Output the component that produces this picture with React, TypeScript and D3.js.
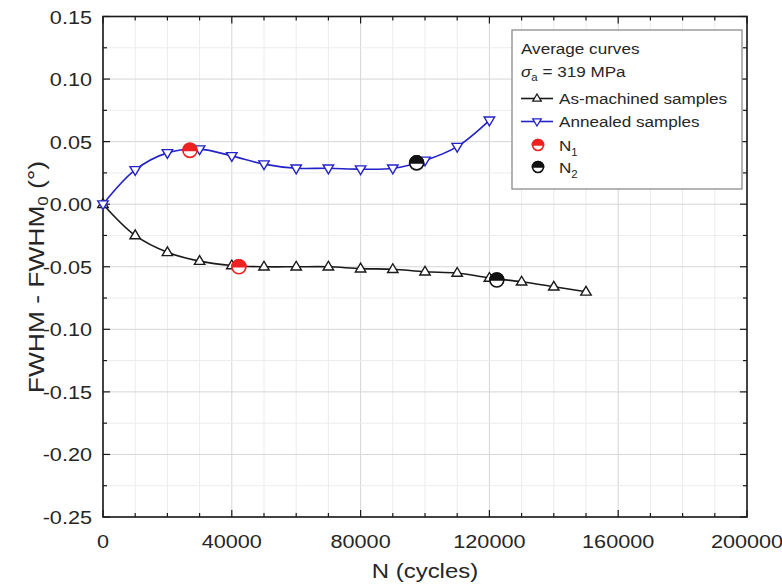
import React from "react";
import * as d3 from "d3";

const cyclesAM = [0, 10000, 20000, 30000, 40000, 50000, 60000, 70000, 80000, 90000, 100000, 110000, 120000, 130000, 140000, 150000];
const asMachined = [0, -0.025, -0.0385, -0.0455, -0.049, -0.05, -0.05, -0.05, -0.0515, -0.052, -0.054, -0.055, -0.059, -0.062, -0.066, -0.07];
const cyclesAN = [0, 10000, 20000, 30000, 40000, 50000, 60000, 70000, 80000, 90000, 100000, 110000, 120000];
const annealed = [0, 0.0274, 0.041, 0.044, 0.0386, 0.032, 0.0287, 0.0287, 0.028, 0.0287, 0.035, 0.046, 0.067];
const n1Cycles = [27000, 42200];
const n1Values = [0.043, -0.05];
const n2Cycles = [97400, 122300];
const n2Values = [0.033, -0.0606];
const xTickLabels = ["0", "40000", "80000", "120000", "160000", "200000"];
const yTickLabels = ["0.15", "0.10", "0.05", "0.00", "-0.05", "-0.10", "-0.15", "-0.20", "-0.25"];

const W = 782, H = 586;
const L = 103, R = 747, T = 16.5, B = 517;
const SX = 1.14;
const FONT = "'Liberation Sans', Arial, sans-serif";
const BLUE = "#2323c8";
const RED = "#ee2222";
const INK = "#1a1a1a";

const x = d3.scaleLinear().domain([0, 200000]).range([L, R]);
const y = d3.scaleLinear().domain([-0.25, 0.15]).range([B, T]);

function Txt({ tx, ty, anchor = "start", size = 19, children, fill = "#262626" }: any) {
  return (
    <g transform={`translate(${tx},${ty}) scale(${SX},1)`}>
      <text textAnchor={anchor} fontSize={size} fontFamily={FONT} fill={fill}>{children}</text>
    </g>
  );
}

function triUp(cx: number, cy: number, s = 5.5) {
  return `M${cx},${cy - s}L${cx + s * 0.95},${cy + s * 0.6}L${cx - s * 0.95},${cy + s * 0.6}Z`;
}
function triDown(cx: number, cy: number, s = 5.5) {
  return `M${cx},${cy + s}L${cx + s * 0.95},${cy - s * 0.6}L${cx - s * 0.95},${cy - s * 0.6}Z`;
}

function HalfCircle({ cx, cy, color, r = 7 }: any) {
  return (
    <g>
      <circle cx={cx} cy={cy} r={r} fill="#fff" stroke={color} strokeWidth={1.6} />
      <path d={`M${cx - r},${cy}A${r},${r} 0 0 1 ${cx + r},${cy}Z`} fill={color} stroke={color} strokeWidth={1.6} />
    </g>
  );
}

export default function App() {
  const line = d3.line<[number, number]>().x((d) => x(d[0])).y((d) => y(d[1])).curve(d3.curveCatmullRom.alpha(0.5));
  const amPts: [number, number][] = cyclesAM.map((c, i) => [c, asMachined[i]]);
  const anPts: [number, number][] = cyclesAN.map((c, i) => [c, annealed[i]]);

  const xMinor = d3.range(0, 200001, 10000);
  const yMinor = d3.range(-0.25, 0.1501, 0.025).map((v) => Math.round(v * 1000) / 1000);
  const xMajor = xTickLabels.map(Number);
  const yMajor = yTickLabels.map(Number);

  return (
    <svg width={W} height={H} style={{ position: "absolute", left: 0, top: 0, background: "#fff" }}>
      <rect x={0} y={0} width={W} height={H} fill="#fff" />
      {/* grid */}
      {xMinor.map((v) => (
        <line key={"gx" + v} x1={x(v)} x2={x(v)} y1={T} y2={B} stroke={v % 40000 === 0 ? "#d6d6d6" : "#ececec"} strokeWidth={1} />
      ))}
      {yMinor.map((v) => (
        <line key={"gy" + v} x1={L} x2={R} y1={y(v)} y2={y(v)} stroke={Math.abs(Math.round(v * 1000) % 50) === 0 ? "#d6d6d6" : "#ececec"} strokeWidth={1} />
      ))}
      {/* ticks */}
      {xMinor.map((v) => {
        const len = v % 40000 === 0 ? 7 : 4;
        return (
          <g key={"tx" + v}>
            <line x1={x(v)} x2={x(v)} y1={B} y2={B - len} stroke={INK} strokeWidth={1.2} />
            <line x1={x(v)} x2={x(v)} y1={T} y2={T + len} stroke={INK} strokeWidth={1.2} />
          </g>
        );
      })}
      {yMinor.map((v) => {
        const len = Math.abs(Math.round(v * 1000) % 50) === 0 ? 7 : 4;
        return (
          <g key={"ty" + v}>
            <line x1={L} x2={L + len} y1={y(v)} y2={y(v)} stroke={INK} strokeWidth={1.2} />
            <line x1={R} x2={R - len} y1={y(v)} y2={y(v)} stroke={INK} strokeWidth={1.2} />
          </g>
        );
      })}
      <rect x={L} y={T} width={R - L} height={B - T} fill="none" stroke={INK} strokeWidth={1.6} />
      {/* tick labels */}
      {xMajor.map((v, i) => (
        <Txt key={"xl" + v} tx={x(v)} ty={B + 31} anchor="middle">{xTickLabels[i]}</Txt>
      ))}
      {yMajor.map((v, i) => (
        <Txt key={"yl" + v} tx={92} ty={y(v) + 7} anchor="end">{yTickLabels[i]}</Txt>
      ))}
      {/* axis titles */}
      <Txt tx={(L + R) / 2} ty={578} anchor="middle" size={21}>N (cycles)</Txt>
      <g transform={`translate(44,277) rotate(-90) scale(1.2,1)`}>
        <text textAnchor="middle" fontSize={22} fontFamily={FONT} fill="#262626">
          FWHM - FWHM<tspan fontSize={14} dy={4}>0</tspan><tspan dy={-4}> (°)</tspan>
        </text>
      </g>
      {/* curves */}
      <path d={line(amPts) || ""} fill="none" stroke={INK} strokeWidth={1.6} />
      <path d={line(anPts) || ""} fill="none" stroke={BLUE} strokeWidth={1.6} />
      {amPts.map((p, i) => (
        <path key={"am" + i} d={triUp(x(p[0]), y(p[1]))} fill="#fff" stroke={INK} strokeWidth={1.4} />
      ))}
      {anPts.map((p, i) => (
        <path key={"an" + i} d={triDown(x(p[0]), y(p[1]))} fill="#fff" stroke={BLUE} strokeWidth={1.4} />
      ))}
      {n1Cycles.map((c, i) => (
        <HalfCircle key={"n1" + i} cx={x(c)} cy={y(n1Values[i])} color={RED} />
      ))}
      {n2Cycles.map((c, i) => (
        <HalfCircle key={"n2" + i} cx={x(c)} cy={y(n2Values[i])} color="#111" />
      ))}
      {/* legend */}
      <rect x={512} y={30} width={230} height={159} fill="#fff" stroke="#8c8c8c" strokeWidth={1.3} />
      <Txt tx={521} ty={54} size={15}>Average curves</Txt>
      <g transform={`translate(521,77) scale(${SX},1)`}>
        <text fontSize={15} fontFamily={FONT} fill="#262626">
          <tspan fontStyle="italic">σ</tspan><tspan fontSize={10} dy={4}>a</tspan><tspan dy={-4}> = 319 MPa</tspan>
        </text>
      </g>
      <line x1={521} x2={553} y1={98.5} y2={98.5} stroke={INK} strokeWidth={1.6} />
      <path d={triUp(537, 98.5, 4.5)} fill="#fff" stroke={INK} strokeWidth={1.3} />
      <Txt tx={559} ty={104} size={15}>As-machined samples</Txt>
      <line x1={521} x2={553} y1={121.5} y2={121.5} stroke={BLUE} strokeWidth={1.6} />
      <path d={triDown(537, 121.5, 4.5)} fill="#fff" stroke={BLUE} strokeWidth={1.3} />
      <Txt tx={559} ty={127} size={15}>Annealed samples</Txt>
      <HalfCircle cx={538} cy={145} color={RED} r={5.5} />
      <g transform={`translate(559,151) scale(${SX},1)`}>
        <text fontSize={15} fontFamily={FONT} fill="#262626">N<tspan fontSize={10} dy={5}>1</tspan></text>
      </g>
      <HalfCircle cx={538} cy={167} color="#111" r={5.5} />
      <g transform={`translate(559,173) scale(${SX},1)`}>
        <text fontSize={15} fontFamily={FONT} fill="#262626">N<tspan fontSize={10} dy={5}>2</tspan></text>
      </g>
    </svg>
  );
}
